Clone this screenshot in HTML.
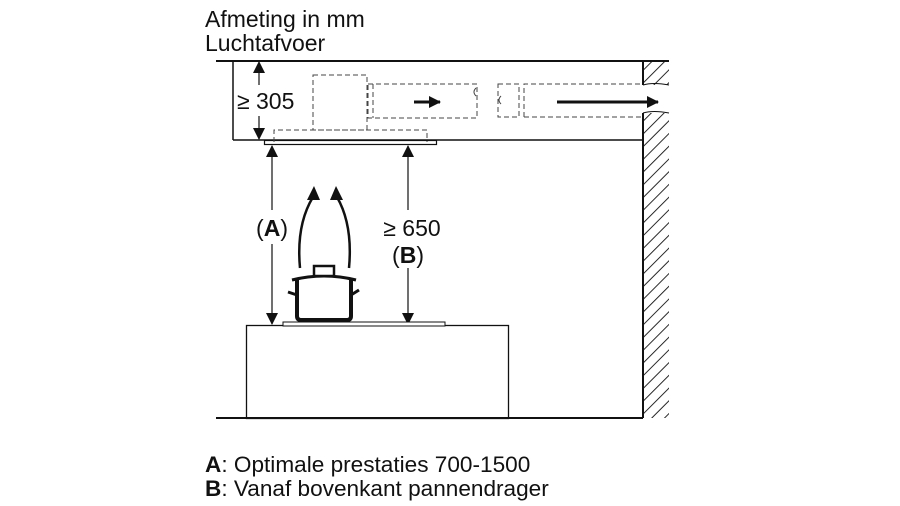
<!DOCTYPE html>
<html><head><meta charset="utf-8"><style>
html,body{margin:0;padding:0;background:#fff;}
svg{display:block;font-family:"Liberation Sans",Arial,sans-serif;}
</style></head><body>
<svg width="900" height="506" viewBox="0 0 900 506" xmlns="http://www.w3.org/2000/svg">
<defs>
<pattern id="h" width="9" height="9" patternUnits="userSpaceOnUse" patternTransform="rotate(45)">
<line x1="0" y1="0" x2="0" y2="9" stroke="#111" stroke-width="1.8"/>
</pattern>
<marker id="ar" markerWidth="12" markerHeight="12" refX="11" refY="6" orient="auto" markerUnits="userSpaceOnUse">
<path d="M0,0 L12,6 L0,12 z" fill="#111"/></marker>
</defs>
<text x="205" y="27" font-size="23" fill="#111">Afmeting in mm</text>
<text x="205" y="51" font-size="23" fill="#111">Luchtafvoer</text>

<rect x="643" y="61" width="26" height="24" fill="url(#h)"/>
<rect x="643" y="113" width="26" height="305" fill="url(#h)"/>
<line x1="643" y1="61" x2="643" y2="85" stroke="#111" stroke-width="2"/>
<line x1="643" y1="113" x2="643" y2="418" stroke="#111" stroke-width="2"/>
<path d="M643,85 q10,-3 26,0 M643,113 q10,-3 26,0" stroke="#111" fill="none" stroke-width="1"/>

<line x1="216" y1="61" x2="669" y2="61" stroke="#111" stroke-width="2"/>
<line x1="233" y1="61" x2="233" y2="140" stroke="#111" stroke-width="1.5"/>
<line x1="233" y1="140" x2="643" y2="140" stroke="#111" stroke-width="1.5"/>
<rect x="264.5" y="140.5" width="172" height="4" fill="#fff" stroke="#111" stroke-width="1.2"/>

<g stroke="#444" stroke-width="1" fill="none" stroke-dasharray="5,3">
<rect x="313" y="75" width="54" height="55"/>
<path d="M274,142 V130 H427 V142"/>
<path d="M368,84 H477 V118 H368 Z"/>
<line x1="373" y1="84" x2="373" y2="118"/>
<path d="M498,84 H519 V117 H498 Z"/>
<path d="M524,117 V84 H643 M524,117 H643"/>
</g>
<path d="M476,88 q-4,4 0,8 M501,96 q-4,4 0,8" stroke="#444" fill="none" stroke-width="1"/>
<line x1="414" y1="102" x2="440" y2="102" stroke="#111" stroke-width="3" marker-end="url(#ar)"/>
<line x1="557" y1="102" x2="658" y2="102" stroke="#111" stroke-width="3" marker-end="url(#ar)"/>

<line x1="259" y1="85" x2="259" y2="62" stroke="#111" stroke-width="1.2" marker-end="url(#ar)"/>
<line x1="259" y1="116" x2="259" y2="139" stroke="#111" stroke-width="1.2" marker-end="url(#ar)"/>
<text x="237" y="109" font-size="23" fill="#111">≥ 305</text>

<line x1="272" y1="210" x2="272" y2="146" stroke="#111" stroke-width="1.2" marker-end="url(#ar)"/>
<line x1="272" y1="244" x2="272" y2="324" stroke="#111" stroke-width="1.2" marker-end="url(#ar)"/>
<text x="272" y="236" font-size="23" fill="#111" text-anchor="middle">(<tspan font-weight="bold">A</tspan>)</text>
<line x1="408" y1="210" x2="408" y2="146" stroke="#111" stroke-width="1.2" marker-end="url(#ar)"/>
<line x1="408" y1="268" x2="408" y2="324" stroke="#111" stroke-width="1.2" marker-end="url(#ar)"/>
<text x="412" y="236" font-size="23" fill="#111" text-anchor="middle">≥ 650</text>
<text x="408" y="263" font-size="23" fill="#111" text-anchor="middle">(<tspan font-weight="bold">B</tspan>)</text>

<rect x="246.5" y="325.5" width="262" height="93" fill="#fff" stroke="#111" stroke-width="1.3"/>
<rect x="283" y="322" width="162" height="4" fill="#fff" stroke="#111" stroke-width="1"/>
<line x1="216" y1="418" x2="643" y2="418" stroke="#111" stroke-width="2"/>

<path d="M297,280 V316 Q297,320 301,320 H347 Q351,320 351,316 V280" fill="#fff" stroke="#111" stroke-width="4"/>
<path d="M292,280 Q324,272 356,280" fill="none" stroke="#111" stroke-width="3"/>
<rect x="314" y="266" width="20" height="10" fill="#fff" stroke="#111" stroke-width="2.5"/>
<path d="M297,295 L288,292 M351,295 L359,290" stroke="#111" stroke-width="3"/>
<path d="M300,268 Q296,225 313,197" fill="none" stroke="#111" stroke-width="2.5"/>
<path d="M349,268 Q353,225 337,197" fill="none" stroke="#111" stroke-width="2.5"/>
<path d="M314,186 l-7,14 h13z M336,186 l-6,14 h13z" fill="#111"/>

<text x="205" y="472" font-size="22.6" fill="#111"><tspan font-weight="bold">A</tspan>: Optimale prestaties 700-1500</text>
<text x="205" y="496" font-size="22.6" fill="#111"><tspan font-weight="bold">B</tspan>: Vanaf bovenkant pannendrager</text>
</svg>
</body></html>
